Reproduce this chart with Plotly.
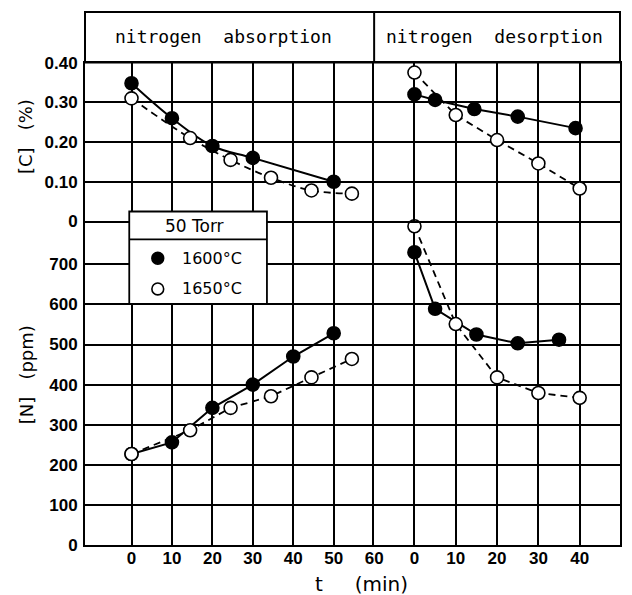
import plotly.graph_objects as go

# ---------------- data ----------------
# nitrogen absorption, [C] (%)
abs_t_1600 = [0, 10, 20, 30, 50]
abs_C_1600 = [0.348, 0.26, 0.19, 0.16, 0.10]
abs_t_1650 = [0, 14.5, 24.5, 34.5, 44.5, 54.5]
abs_C_1650 = [0.31, 0.21, 0.155, 0.11, 0.078, 0.07]
# nitrogen absorption, [N] (ppm)
absN_t_1600 = [0, 10, 20, 30, 40, 50]
abs_N_1600 = [227, 256, 342, 400, 470, 528]
absN_t_1650 = [0, 14.5, 24.5, 34.5, 44.5, 54.5]
abs_N_1650 = [227, 286, 342, 371, 418, 464]
# nitrogen desorption, [C] (%)
des_t_1600_C = [0, 5, 14.5, 25, 39]
des_C_1600 = [0.32, 0.306, 0.283, 0.264, 0.235]
des_t_1650 = [0, 10, 20, 30, 40]
des_C_1650 = [0.375, 0.268, 0.205, 0.146, 0.083]
# nitrogen desorption, [N] (ppm)
des_t_1600_N = [0, 5, 15, 25, 35]
des_N_1600 = [730, 589, 525, 503, 512]
des_N_1650 = [795, 551, 418, 379, 367]

abs_ticks = [0, 10, 20, 30, 40, 50, 60]
des_ticks = [0, 10, 20, 30, 40]
C_ticks = [0, 0.1, 0.2, 0.3, 0.4]
C_ticktext = ["0", "0.10", "0.20", "0.30", "0.40"]
N_ticks = [0, 100, 200, 300, 400, 500, 600, 700]

panel_titles = ["nitrogen  absorption", "nitrogen  desorption"]
legend_title = "50 Torr"
legend_labels = ["1600°C", "1650°C"]

# ---------------- layout geometry (pixels) ----------------
W, H = 632, 595
L, R, T, B = 85, 3, 8, 50
PW = W - L - R
PH = H - T - B


def px(x):
    return (x - L) / PW


def py(y):
    return (H - B - y) / PH


XDIV = px(379)
TICKFONT = dict(family="Liberation Sans, Arial, sans-serif", size=17,
                color="black", weight="bold")

fig = go.Figure()


def add_series(t, v, xa, ya, filled, spline=False):
    fig.add_trace(go.Scatter(
        x=t, y=v, xaxis=xa, yaxis=ya, mode="lines+markers",
        line=dict(color="black", width=2 if filled else 1.8,
                  dash="solid" if filled else "7px,5px",
                  shape="spline" if spline else "linear"),
        marker=dict(size=13, symbol="circle",
                    color="black" if filled else "white",
                    line=dict(color="black", width=1.6)),
        cliponaxis=False, showlegend=False, hoverinfo="x+y"))


# [C] panels (top): x3/y3 left, x4/y4 right
add_series(abs_t_1600, abs_C_1600, "x3", "y3", True, spline=True)
add_series(abs_t_1650, abs_C_1650, "x3", "y3", False, spline=True)
add_series(des_t_1600_C, des_C_1600, "x4", "y4", True)
add_series(des_t_1650, des_C_1650, "x4", "y4", False)
# [N] panels (bottom): x/y left, x2/y2 right
add_series(absN_t_1600, abs_N_1600, "x", "y", True)
add_series(absN_t_1650, abs_N_1650, "x", "y", False)
add_series(des_t_1600_N, des_N_1600, "x2", "y2", True)
add_series(des_t_1650, des_N_1650, "x2", "y2", False)

common = dict(showline=True, linecolor="black", linewidth=2,
              showgrid=True, gridcolor="black", gridwidth=1.7,
              zeroline=False, ticks="", tickfont=TICKFONT, fixedrange=True)

abs_range = [-11.5, 60]
des_range = [-9.76, 49.76]
N_range = [0, (545 - 221) / 0.404]
C_range = [0, 0.40]

fig.update_layout(
    width=W, height=H,
    margin=dict(l=L, r=R, t=T, b=B),
    paper_bgcolor="white", plot_bgcolor="white",
    showlegend=False,
    xaxis=dict(domain=[0, XDIV], range=abs_range, anchor="y", mirror=True,
               tickvals=abs_ticks, ticktext=[str(v) for v in abs_ticks],
               ticklabelstandoff=-3, **common),
    xaxis2=dict(domain=[XDIV, 1], range=des_range, anchor="y2", mirror=True,
                tickvals=des_ticks, ticktext=[str(v) for v in des_ticks],
                ticklabelstandoff=-3, **common),
    xaxis3=dict(domain=[0, XDIV], range=abs_range, anchor="y3", mirror=True,
                tickvals=abs_ticks, showticklabels=False, **common),
    xaxis4=dict(domain=[XDIV, 1], range=des_range, anchor="y4", mirror=True,
                tickvals=des_ticks, showticklabels=False, **common),
    yaxis=dict(domain=[0, py(221)], range=N_range, anchor="x", mirror=False,
               tickvals=N_ticks, ticktext=[str(v) for v in N_ticks],
               ticklabelstandoff=2, **common),
    yaxis2=dict(domain=[0, py(221)], range=N_range, anchor="x2", mirror=True,
                tickvals=N_ticks, showticklabels=False, **common),
    yaxis3=dict(domain=[py(219), py(59)], range=C_range, anchor="x3",
                mirror=False, tickvals=C_ticks, ticktext=C_ticktext,
                ticklabelstandoff=2, **common),
    yaxis4=dict(domain=[py(219), py(59)], range=C_range, anchor="x4",
                mirror=True, tickvals=C_ticks, showticklabels=False, **common),
)

shapes = []
# header band with the panel divider
shapes.append(dict(type="rect", xref="paper", yref="paper",
                   x0=px(85), x1=px(629), y0=py(59), y1=py(8),
                   line=dict(color="black", width=2), fillcolor="white",
                   layer="below"))
shapes.append(dict(type="line", xref="paper", yref="paper",
                   x0=XDIV, x1=XDIV, y0=py(59), y1=py(8),
                   line=dict(color="black", width=2)))
# legend box
shapes.append(dict(type="rect", xref="paper", yref="paper",
                   x0=px(130), x1=px(270), y0=py(302), y1=py(209),
                   line=dict(color="black", width=1.8), fillcolor="white",
                   layer="above"))
shapes.append(dict(type="line", xref="paper", yref="paper",
                   x0=px(130), x1=px(270), y0=py(237), y1=py(237),
                   line=dict(color="black", width=1.8), layer="above"))
r = 6
for cy, fill in [(256, "black"), (287, "white")]:
    shapes.append(dict(type="circle", xref="paper", yref="paper",
                       x0=px(159 - r), x1=px(159 + r),
                       y0=py(cy + r), y1=py(cy - r),
                       line=dict(color="black", width=1.6), fillcolor=fill,
                       layer="above"))
fig.update_layout(shapes=shapes)


def note(text, x, y, font, xanchor="center", angle=0):
    return dict(text=text, x=px(x), y=py(y), xref="paper", yref="paper",
                showarrow=False, xanchor=xanchor, yanchor="middle",
                textangle=angle, font=font)


ann = []
title_font = dict(family="DejaVu Sans Mono, monospace", size=18, color="black")
ann.append(note(panel_titles[0], 226, 33, title_font))
ann.append(note(panel_titles[1], 501, 33, title_font))
leg_font = dict(family="DejaVu Sans, sans-serif", size=16, color="black")
ann.append(note(legend_title, 196, 224,
                dict(family="DejaVu Sans, sans-serif", size=17, color="black")))
ann.append(note(legend_labels[0], 182, 256, leg_font, xanchor="left"))
ann.append(note(legend_labels[1], 182, 287, leg_font, xanchor="left"))
ax_font = dict(family="DejaVu Sans, sans-serif", size=18, color="black")
ann.append(note("[C]   (%)", 24, 134, ax_font, angle=-90))
ann.append(note("[N]   (ppm)", 25, 373, ax_font, angle=-90))
ann.append(note("t     (min)", 317, 584,
                dict(family="DejaVu Sans, sans-serif", size=20, color="black"),
                xanchor="left"))
fig.update_layout(annotations=ann)

fig.write_html("out.html")
